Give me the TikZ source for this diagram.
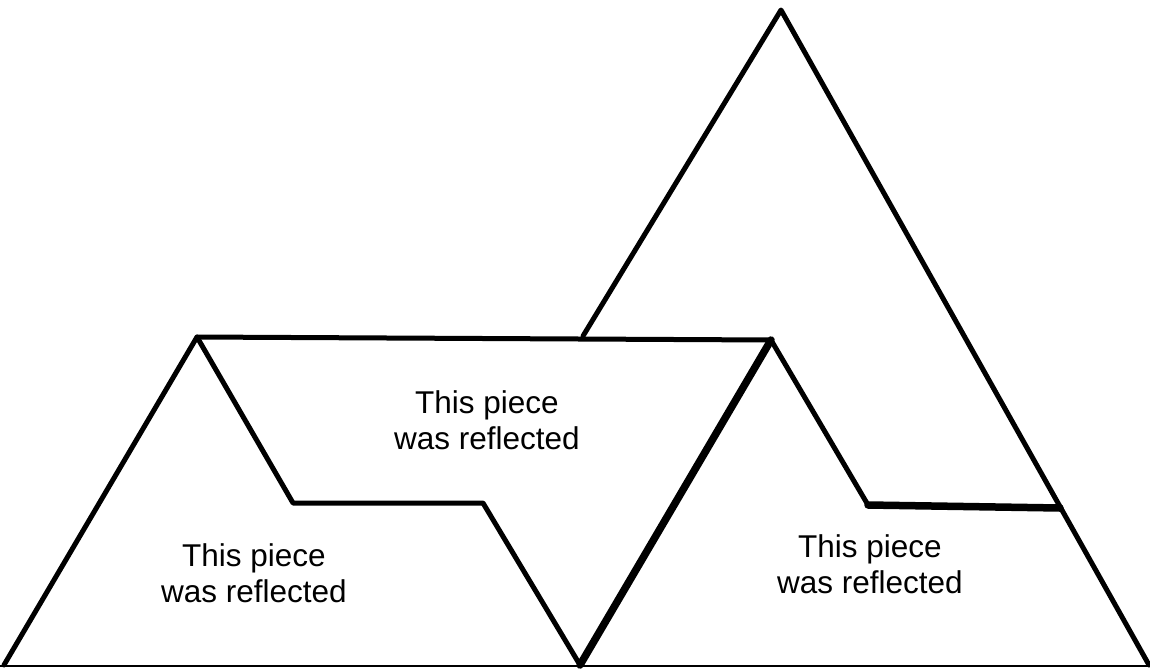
\documentclass[tikz,border=0pt]{standalone}
\usepackage{fontspec}
\setmainfont{Liberation Sans}
\tikzset{
  edge/.style={line width=5pt, line join=round, line cap=round},
  thickedge/.style={line width=7.5pt, line join=round, line cap=round},
  baseline/.style={line width=2.5pt},
  label/.style={font=\fontsize{31.5}{36}\selectfont, align=center, anchor=base, inner sep=0pt}
}
\begin{document}
\begin{tikzpicture}[x=1pt,y=-1pt]
\useasboundingbox (0,0) rectangle (1150,670);
% coordinates
\coordinate (apex) at (781,10);
\coordinate (B) at (583,336);
\coordinate (H1) at (197,337);
\coordinate (H2) at (771,340);
\coordinate (L0) at (4,665);
\coordinate (M1) at (293,503);
\coordinate (M2) at (483,503);
\coordinate (V) at (580,665);
\coordinate (R1) at (868,505);
\coordinate (R2) at (1060,508);
\coordinate (RB) at (1149,665);
\coordinate (BL) at (0,666);
\coordinate (BR) at (1150,666);
% bottom line
\draw[baseline] (BL) -- (BR);
% big triangle sides
\draw[edge] (B) -- (apex) -- (RB);
% left triangle + top horizontal
\draw[edge] (L0) -- (H1) -- (H2);
% middle zigzag
\draw[edge] (H1) -- (M1) -- (M2) -- (V);
% thick diagonal
\draw[thickedge] (H2) -- (V);
% right zigzag
\draw[edge] (H2) -- (R1);
\draw[thickedge] (R1) -- (R2);
% labels
\node[label] (t1) at (487,449) {This piece\\was reflected};
\node[label] (t2) at (254,602) {This piece\\was reflected};
\node[label] (t3) at (870,593) {This piece\\was reflected};
\end{tikzpicture}
\end{document}
